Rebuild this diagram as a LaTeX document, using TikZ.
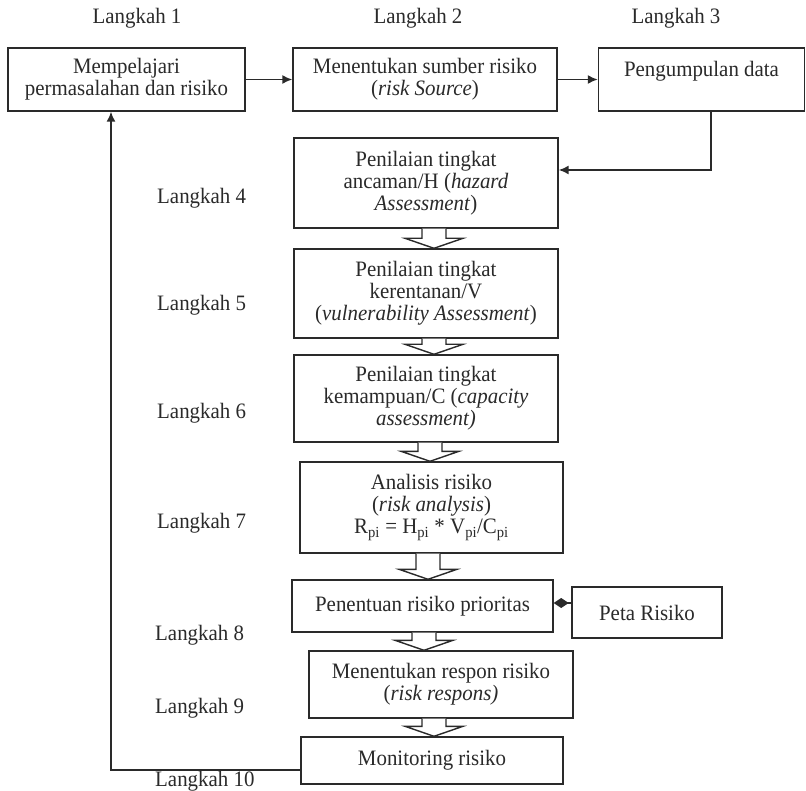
\documentclass[tikz,border=0pt]{standalone}
\usepackage{fontspec}
\setmainfont[FakeStretch=0.95]{Liberation Serif}
\usetikzlibrary{arrows.meta,calc}
\definecolor{ink}{HTML}{2A2A2A}

% hollow block arrow between two stacked boxes: #1 upper node, #2 lower node, #3 x position
\newcommand{\hollowdown}[3]{%
  \draw[hollowarrow] let \p1=(#1.south), \p2=(#2.north) in
    (#3pt-12pt,\y1) -- (#3pt-12pt,\y2+10pt) -- (#3pt-29pt,\y2+10pt) -- (#3pt,\y2)
    -- (#3pt+29pt,\y2+10pt) -- (#3pt+12pt,\y2+10pt) -- (#3pt+12pt,\y1);
}

\begin{document}
\begin{tikzpicture}[x=1pt,y=-1pt,
  every node/.style={font=\fontsize{22}{22}\selectfont, text=ink},
  stepbox/.style={draw=ink, line width=1.4pt, align=center, inner sep=0pt, fill=white},
  steplabel/.style={inner sep=0pt},
  flow/.style={draw=ink, line width=1.6pt, -{Latex[length=10pt,width=9pt]}},
  hollowarrow/.style={draw=ink, line width=1.4pt, fill=white, line join=miter}
]
\useasboundingbox (0,0) rectangle (806,791);

% step titles across the top
\node[steplabel] (l1) at (137,18) {Langkah 1};
\node[steplabel] (l2) at (418,18) {Langkah 2};
\node[steplabel] (l3) at (676,18) {Langkah 3};

% top row
\node[stepbox, minimum width=237pt, minimum height=63pt] (b1) at (126.5,79.5)
  {Mempelajari\\permasalahan dan risiko};
\node[stepbox, minimum width=264pt, minimum height=63pt] (b2) at (425,79.5)
  {Menentukan sumber risiko\\(\textit{risk Source})};
\node[stepbox, minimum width=206pt, minimum height=63pt] (b3) at (701.5,79.5)
  {Pengumpulan data\\\mbox{}};

% vertical chain
\node[stepbox, minimum width=264pt, minimum height=90pt] (b4) at (426,183)
  {Penilaian tingkat\\ancaman/H (\textit{hazard}\\\textit{Assessment})};
\node[stepbox, minimum width=264pt, minimum height=89pt] (b5) at (426,293.5)
  {Penilaian tingkat\\kerentanan/V\\(\textit{vulnerability Assessment})};
\node[stepbox, minimum width=264pt, minimum height=87pt] (b6) at (426,398.5)
  {Penilaian tingkat\\kemampuan/C (\textit{capacity}\\\textit{assessment)}};
\node[stepbox, minimum width=263pt, minimum height=91pt] (b7) at (431.5,507.5)
  {Analisis risiko\\(\textit{risk analysis})\\R\textsubscript{pi} = H\textsubscript{pi} * V\textsubscript{pi}/C\textsubscript{pi}};
\node[stepbox, minimum width=261pt, minimum height=52pt] (b8) at (422.5,606)
  {Penentuan risiko prioritas};
\node[stepbox, minimum width=150pt, minimum height=51pt] (peta) at (647,612.5)
  {Peta Risiko};
\node[stepbox, minimum width=264pt, minimum height=67pt] (b9) at (441,684.5)
  {Menentukan respon risiko\\(\textit{risk respons)}};
\node[stepbox, minimum width=262pt, minimum height=47pt] (b10) at (432,760.5)
  {Monitoring risiko};

% step titles on the left
\node[steplabel, anchor=west] (l4) at (157,198) {Langkah 4};
\node[steplabel, anchor=west] (l5) at (157,305) {Langkah 5};
\node[steplabel, anchor=west] (l6) at (157,413) {Langkah 6};
\node[steplabel, anchor=west] (l7) at (157,523) {Langkah 7};
\node[steplabel, anchor=west] (l8) at (155,635) {Langkah 8};
\node[steplabel, anchor=west] (l9) at (155,708) {Langkah 9};
\node[steplabel, anchor=west] (l10) at (155,781) {Langkah 10};

% connectors
\coordinate (k3) at (711,170);
\coordinate (fb) at (111,770);
\coordinate (pk) at (0,603);

\draw[flow] (b1.east) -- (b2.west);
\draw[flow] (b2.east) -- (b3.west);
\draw[flow] (b3.south -| k3) -- (k3) -- (k3 -| b4.east);
\draw[flow] (fb -| b10.west) -- (fb) -- (fb |- b1.south);
\draw[draw=ink, line width=1.6pt, -{Diamond[length=15pt,width=10pt]}] (pk -| peta.west) -- (pk -| b8.east);

% block arrows down the chain
\hollowdown{b4}{b5}{434}
\hollowdown{b5}{b6}{434}
\hollowdown{b6}{b7}{430}
\hollowdown{b7}{b8}{428}
\hollowdown{b8}{b9}{424}
\hollowdown{b9}{b10}{434}
\end{tikzpicture}
\end{document}
